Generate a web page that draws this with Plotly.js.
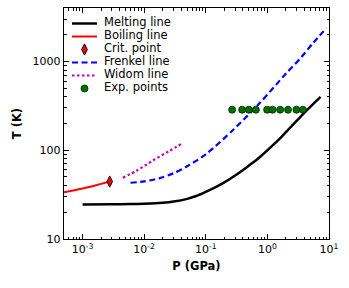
<!DOCTYPE html>
<html><head><meta charset="utf-8">
<script src="https://cdn.plot.ly/plotly-3.0.1.min.js"></script>
<style>html,body{margin:0;padding:0;background:#fff}#chart{width:349px;height:288px}</style>
</head><body><div id="chart"></div>
<script>
// Data (P in GPa, T in K)
const meltP = [0.001, 0.003, 0.006, 0.01, 0.02, 0.03, 0.05, 0.07, 0.1, 0.15, 0.2, 0.3, 0.5, 0.7, 1.0, 1.5, 2.0, 3.0, 4.0, 5.5, 7.3];
const meltT = [24.5, 24.6, 24.8, 25.0, 25.6, 26.4, 28.3, 30.5, 34, 39, 43.5, 52, 67, 80, 100, 130, 160, 215, 265, 330, 400];
const boilP = [5e-4, 1e-3, 1.5e-3, 2e-3, 2.76e-3];
const boilT = [33.5, 37, 39.5, 41.8, 44.4];
const critP = [2.76e-3];
const critT = [44.4];
const frenP = [0.006, 0.01, 0.018, 0.03, 0.05, 0.1, 0.28, 0.75, 2.04, 3.57, 5.5, 9.1];
const frenT = [43, 44.5, 48.5, 55, 66, 90, 170, 340, 740, 1120, 1610, 2380];
const widP = [0.0045, 0.0076, 0.014, 0.025, 0.042];
const widT = [49, 59, 77, 97, 120];
const expP = [0.268, 0.389, 0.50, 0.65, 0.99, 1.21, 1.61, 2.16, 2.96, 3.78];
const expT = [286, 286, 286, 286, 286, 286, 286, 286, 286, 286];
const xTickVals = [1e-3, 1e-2, 1e-1, 1, 10];
const xTickText = ['10<sup>-3</sup>', '10<sup>-2</sup>', '10<sup>-1</sup>', '10<sup>0</sup>', '10<sup>1</sup>'];
const yTickVals = [10, 100, 1000];
const yTickText = ['10', '100', '1000'];
const legendLabels = ['Melting line', 'Boiling line', 'Crit. point', 'Frenkel line', 'Widom line', 'Exp. points'];

function minors(lo, hi) {
  const out = [];
  for (let e = lo; e <= hi; e++) for (let d = 2; d <= 9; d++) out.push(d * Math.pow(10, e));
  return out;
}

const styles = [
  {mode: 'lines', line: {color: '#000', width: 2.5}},
  {mode: 'lines', line: {color: '#ff0000', width: 2}},
  {mode: 'markers', marker: {symbol: 'diamond-tall', size: 8, color: '#ff0000', line: {color: '#000', width: 1}}},
  {mode: 'lines', line: {color: '#0000ff', width: 2.2, dash: '6px,3.5px'}},
  {mode: 'lines', line: {color: '#bf00bf', width: 2.2, dash: '2.5px,2.5px'}},
  {mode: 'markers', marker: {symbol: 'circle', size: 7, color: '#007000', line: {color: '#002000', width: 0.8}}}
];
const series = [[meltP, meltT], [boilP, boilT], [critP, critT], [frenP, frenT], [widP, widT], [expP, expT]];

const traces = series.map((s, i) => Object.assign({x: s[0], y: s[1], name: legendLabels[i], showlegend: false},
  JSON.parse(JSON.stringify(styles[i])),
  styles[i].mode === 'lines' ? {line: Object.assign({}, styles[i].line, {shape: 'spline', smoothing: 0.8})} : {}));

// Legend drawn on an overlay axis measured in pixels from the plot's top-left corner
const rowY = [15.5, 28.5, 41.5, 54.5, 67.5, 80.5];
legendLabels.forEach((lab, i) => {
  const st = JSON.parse(JSON.stringify(styles[i]));
  const sample = st.mode === 'lines' ? {x: [8, 33], y: [rowY[i], rowY[i]]} : {x: [20.5], y: [rowY[i]]};
  traces.push(Object.assign({xaxis: 'x2', yaxis: 'y2', showlegend: false, hoverinfo: 'skip'}, sample, st));
});
traces.push({xaxis: 'x2', yaxis: 'y2', showlegend: false, hoverinfo: 'skip', mode: 'text',
  x: legendLabels.map(() => 40), y: rowY, text: legendLabels, textposition: 'middle right',
  textfont: {family: 'DejaVu Sans', size: 11.5, color: '#000'}});

const layout = {
  width: 349, height: 288,
  margin: {l: 64, r: 20, t: 8, b: 49},
  paper_bgcolor: '#fff', plot_bgcolor: '#fff',
  font: {family: 'DejaVu Sans', size: 11, color: '#000'},
  showlegend: false,
  xaxis: {
    type: 'log', range: [Math.log10(5e-4), 1],
    tickmode: 'array', tickvals: xTickVals, ticktext: xTickText,
    ticks: 'inside', ticklen: 5, tickwidth: 1, tickcolor: '#000',
    showline: true, linecolor: '#000', linewidth: 1.2, mirror: 'allticks',
    showgrid: false, zeroline: false,
    minor: {tickmode: 'array', tickvals: minors(-4, 0), ticks: 'inside', ticklen: 2.5, tickcolor: '#000', showgrid: false},
    tickfont: {family: 'DejaVu Sans', size: 11, color: '#000'},
    title: {text: '<b>P (GPa)</b>', font: {family: 'DejaVu Sans', size: 11.5, color: '#000'}, standoff: 6}
  },
  yaxis: {
    type: 'log', range: [1, Math.log10(4000)],
    tickmode: 'array', tickvals: yTickVals, ticktext: yTickText,
    ticks: 'inside', ticklen: 5, tickwidth: 1, tickcolor: '#000',
    showline: true, linecolor: '#000', linewidth: 1.2, mirror: 'allticks',
    showgrid: false, zeroline: false,
    minor: {tickmode: 'array', tickvals: minors(1, 3), ticks: 'inside', ticklen: 2.5, tickcolor: '#000', showgrid: false},
    tickfont: {family: 'DejaVu Sans', size: 11, color: '#000'},
    title: {text: '<b>T (K)</b>', font: {family: 'DejaVu Sans', size: 11.5, color: '#000'}, standoff: 8}
  },
  xaxis2: {overlaying: 'x', anchor: 'y2', range: [0, 265], visible: false, fixedrange: true},
  yaxis2: {overlaying: 'y', anchor: 'x2', range: [231, 0], visible: false, fixedrange: true}
};
Plotly.newPlot('chart', traces, layout, {displayModeBar: false, staticPlot: true});
</script></body></html>
